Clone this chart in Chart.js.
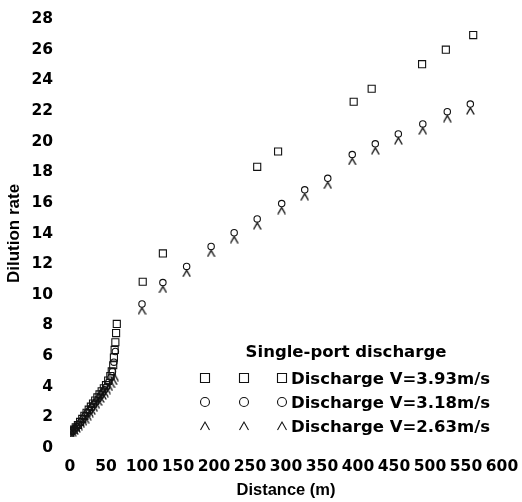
<!DOCTYPE html>
<html>
<head>
<meta charset="utf-8">
<script src="https://cdn.jsdelivr.net/npm/chart.js@4.4.0/dist/chart.umd.min.js"></script>
<style>
  html, body { margin: 0; padding: 0; background: #fff; }
</style>
</head>
<body>
<canvas id="chart" width="522" height="502"></canvas>
<script>
// Dilution rate vs distance, single-port discharge, three outlet velocities

const seriesLabels = ['Discharge V=3.93m/s', 'Discharge V=3.18m/s', 'Discharge V=2.63m/s'];
const xTicks = [0, 50, 100, 150, 200, 250, 300, 350, 400, 450, 500, 550, 600];
const yTicks = [0, 2, 4, 6, 8, 10, 12, 14, 16, 18, 20, 22, 24, 26, 28];

// V=3.93 m/s (squares)
const dist393 = [0, 2, 5, 8, 11, 14, 17, 20, 23, 26, 29, 32, 35, 38, 41, 44, 47, 50, 53, 56, 58, 60, 61, 62, 63, 64, 65,
                 101, 129, 260, 289, 394, 419, 489, 522, 560];
const rate393 = [1.0, 1.1, 1.2, 1.35, 1.5, 1.7, 1.9, 2.1, 2.3, 2.5, 2.7, 2.9, 3.1, 3.3, 3.5, 3.7, 3.9, 4.1, 4.4, 4.7, 5.0, 5.4, 5.9, 6.4, 6.9, 7.5, 8.1,
                 10.85, 12.7, 18.35, 19.35, 22.6, 23.45, 25.05, 26.0, 26.95];

// V=3.18 m/s (circles)
const dist318 = [0, 3, 6, 9, 12, 15, 18, 21, 24, 27, 30, 33, 36, 39, 42, 45, 48, 51, 54, 57, 59, 61, 63,
                 100, 129, 162, 196, 228, 260, 294, 326, 358, 392, 424, 456, 490, 524, 556];
const rate318 = [1.0, 1.1, 1.25, 1.4, 1.55, 1.7, 1.9, 2.1, 2.3, 2.45, 2.65, 2.85, 3.0, 3.2, 3.4, 3.6, 3.8, 4.0, 4.3, 4.6, 5.0, 5.6, 6.3,
                 9.4, 10.8, 11.85, 13.15, 14.05, 14.95, 15.95, 16.85, 17.6, 19.15, 19.85, 20.5, 21.15, 21.95, 22.45];

// V=2.63 m/s (carets)
const dist263 = [0, 3, 6, 9, 12, 15, 18, 21, 24, 27, 30, 33, 36, 39, 42, 45, 48, 51, 54, 57, 60, 62,
                 100, 129, 162, 196, 228, 260, 294, 326, 358, 392, 424, 456, 490, 524, 556];
const rate263 = [0.95, 1.0, 1.1, 1.25, 1.4, 1.55, 1.7, 1.85, 2.05, 2.25, 2.4, 2.6, 2.8, 3.0, 3.2, 3.4, 3.55, 3.75, 3.95, 4.15, 4.35, 4.6,
                 8.95, 10.35, 11.4, 12.7, 13.6, 14.5, 15.5, 16.4, 17.15, 18.7, 19.4, 20.05, 20.7, 21.5, 22.0];

const ink = '#111';

function toPoints(xs, ys) {
  return xs.map((x, i) => ({ x: x, y: ys[i] }));
}

// open caret marker, like the "^" in the scanned figure
function makeCaret(w, h) {
  const c = document.createElement('canvas');
  c.width = w; c.height = h;
  const g = c.getContext('2d');
  g.strokeStyle = ink;
  g.lineWidth = 1.4;
  g.beginPath();
  g.moveTo(0.8, h - 0.5);
  g.lineTo(w / 2, 1);
  g.lineTo(w - 0.8, h - 0.5);
  g.stroke();
  return c;
}
const caret = makeCaret(9, 8);

const markerLegend = {
  id: 'markerLegend',
  afterDraw(chart) {
    const ctx = chart.ctx;
    ctx.save();
    ctx.fillStyle = '#000';
    ctx.font = 'bold 16.5px "DejaVu Sans"';
    ctx.textBaseline = 'alphabetic';
    ctx.textAlign = 'center';
    ctx.fillText('Single-port discharge', 346, 357);

    ctx.textAlign = 'left';
    const baselines = [384, 408, 432];
    const markX = [205, 244, 282];
    chart.data.datasets.forEach((ds, i) => {
      const b = baselines[i];
      ctx.fillText(ds.label, 291, b);
      const cy = b - 6;
      ctx.strokeStyle = ink;
      ctx.lineWidth = 1.1;
      markX.forEach(mx => {
        ctx.beginPath();
        if (ds.pointStyle === 'rect') {
          ctx.rect(mx - 4.5, cy - 4.5, 9, 9);
        } else if (ds.pointStyle === 'circle') {
          ctx.arc(mx, cy, 4.5, 0, Math.PI * 2);
        } else {
          ctx.moveTo(mx - 4.5, cy + 4);
          ctx.lineTo(mx, cy - 4);
          ctx.lineTo(mx + 4.5, cy + 4);
        }
        ctx.stroke();
      });
    });
    ctx.restore();
  }
};

const tickFont = { family: 'DejaVu Sans', weight: 'bold', size: 15.5 };

new Chart(document.getElementById('chart').getContext('2d'), {
  type: 'scatter',
  data: {
    datasets: [
      {
        label: seriesLabels[0],
        data: toPoints(dist393, rate393),
        pointStyle: 'rect',
        radius: 5,
        borderColor: ink,
        borderWidth: 1.1,
        backgroundColor: 'transparent'
      },
      {
        label: seriesLabels[1],
        data: toPoints(dist318, rate318),
        pointStyle: 'circle',
        radius: 3.2,
        borderColor: ink,
        borderWidth: 1.1,
        backgroundColor: 'transparent'
      },
      {
        label: seriesLabels[2],
        data: toPoints(dist263, rate263),
        pointStyle: caret,
        radius: 4,
        borderColor: ink,
        borderWidth: 1,
        backgroundColor: 'transparent'
      }
    ]
  },
  options: {
    responsive: false,
    animation: false,
    layout: { padding: { top: 19, right: 20, left: 0, bottom: 0 } },
    plugins: {
      legend: { display: false },
      tooltip: { enabled: false }
    },
    scales: {
      x: {
        type: 'linear',
        min: 0,
        max: 600,
        afterBuildTicks(scale) { scale.ticks = xTicks.map(v => ({ value: v })); },
        afterFit(scale) {
          scale.height = 54;
          scale.paddingLeft = 0;
          scale.paddingRight = 0;
        },
        grid: { display: false, drawTicks: false },
        border: { display: false },
        ticks: { color: '#000', font: tickFont, padding: 10, maxRotation: 0, autoSkip: false },
        title: {
          display: true,
          text: 'Distance (m)',
          color: '#000',
          font: { family: 'Liberation Sans', weight: 'bold', size: 16.5 },
          padding: { top: 0, bottom: 2 }
        }
      },
      y: {
        min: 0,
        max: 28,
        afterBuildTicks(scale) { scale.ticks = yTicks.map(v => ({ value: v })); },
        afterFit(scale) {
          scale.width = 70;
          scale.paddingTop = 0;
          scale.paddingBottom = 0;
        },
        grid: { display: false, drawTicks: false },
        border: { display: false },
        ticks: { color: '#000', font: tickFont, padding: 17, autoSkip: false },
        title: {
          display: true,
          text: 'Dilution rate',
          color: '#000',
          font: { family: 'Liberation Sans', weight: 'bold', size: 17 },
          padding: { top: 4, bottom: 0 }
        }
      }
    }
  },
  plugins: [markerLegend]
});
</script>
</body>
</html>
